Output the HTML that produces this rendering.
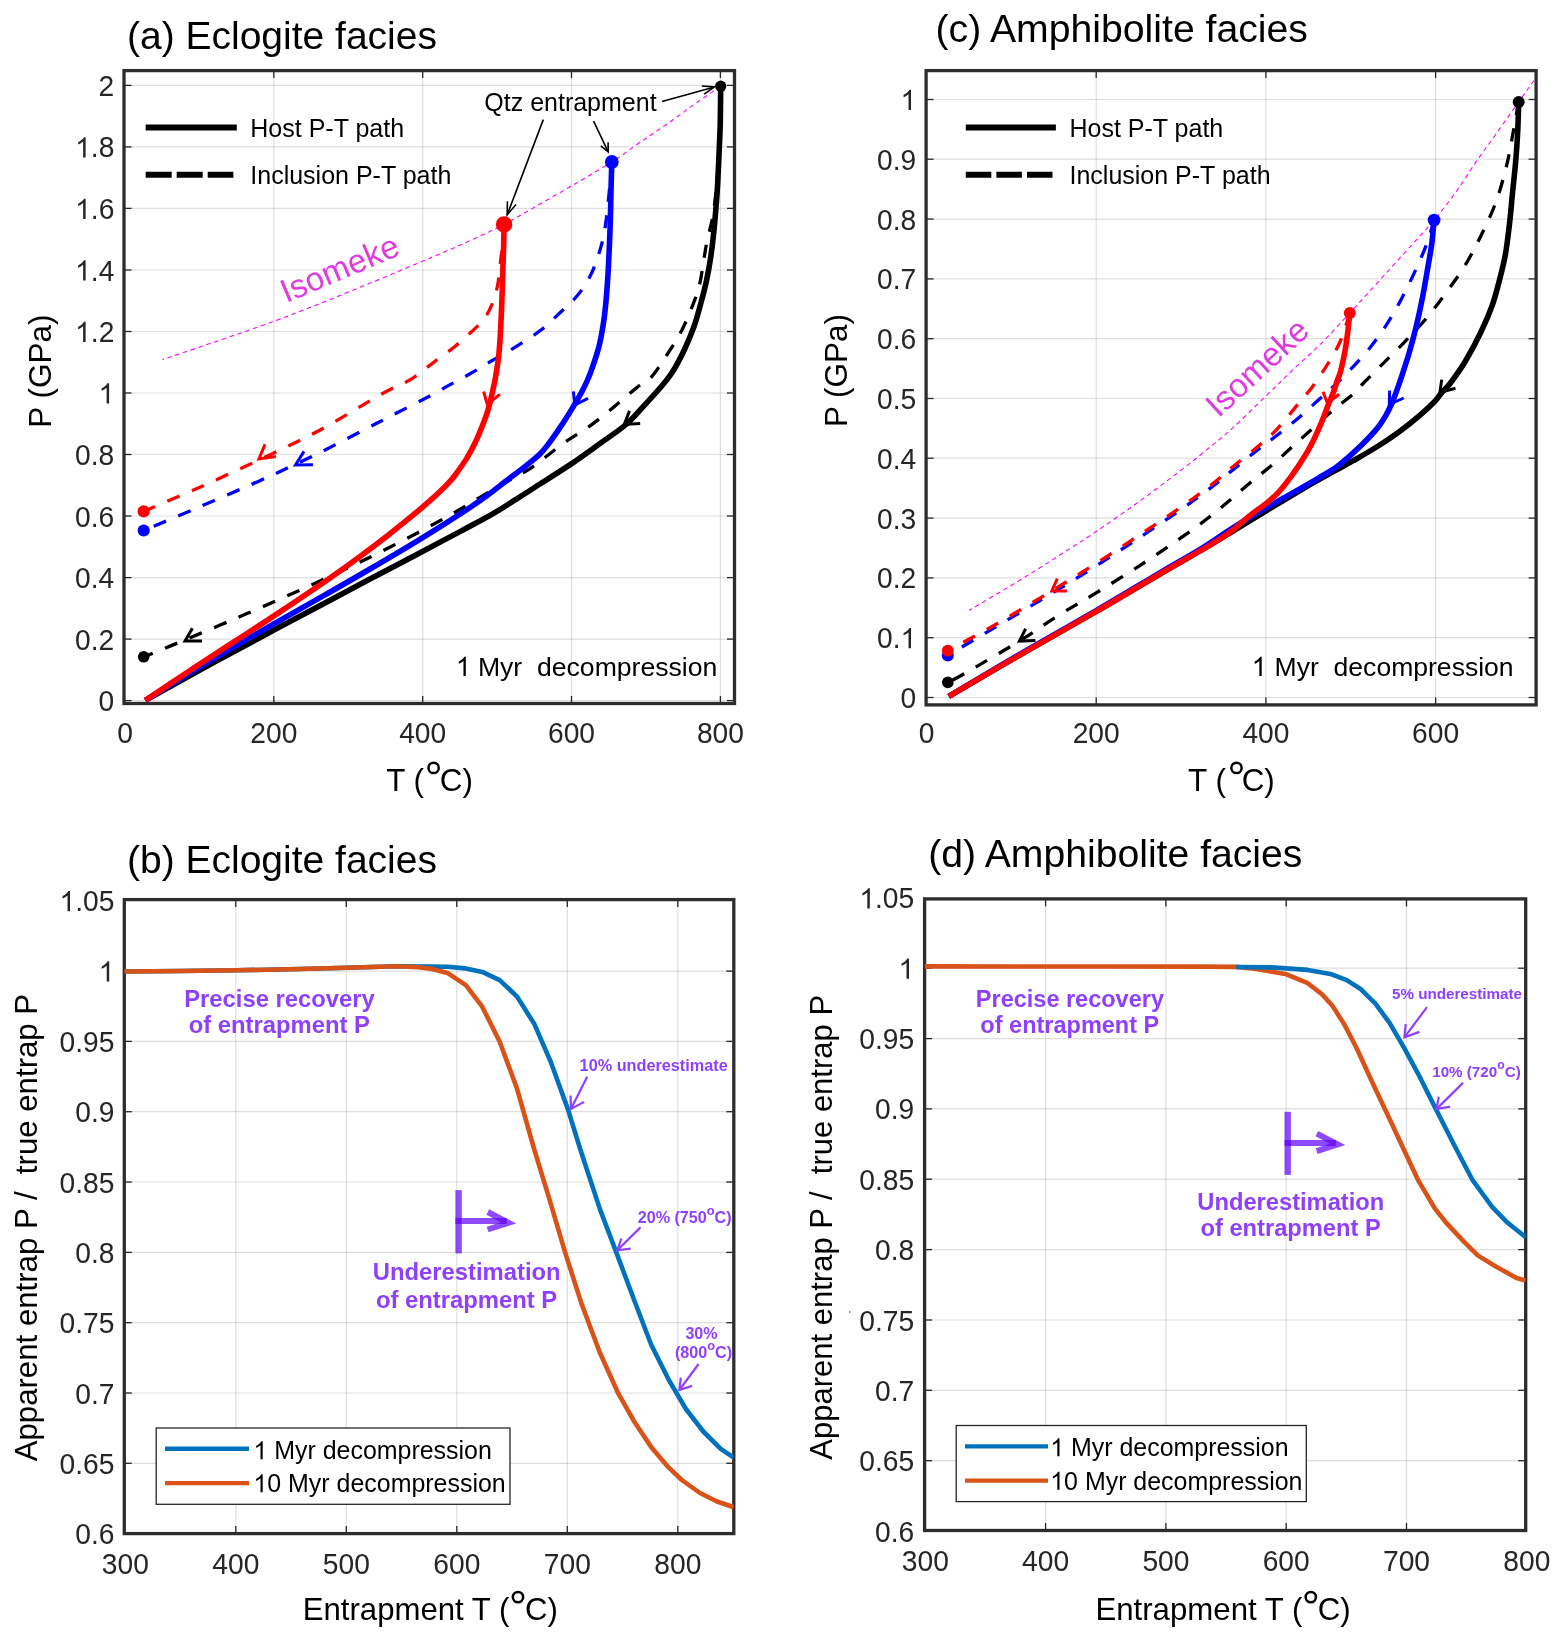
<!DOCTYPE html>
<html><head><meta charset="utf-8"><title>Figure</title>
<style>html,body{margin:0;padding:0;background:#fff;}svg{display:block;will-change:transform;}text{white-space:pre;}</style>
</head><body>
<svg width="1563" height="1640" viewBox="0 0 1563 1640" font-family='"Liberation Sans", sans-serif'>
<rect width="1563" height="1640" fill="#fff"/>
<rect x="124" y="70.6" width="610.5" height="632.9" fill="#fff"/>
<line x1="273.8" y1="70.6" x2="273.8" y2="703.5" stroke="#000" stroke-opacity="0.13" stroke-width="1.2"/>
<line x1="422.7" y1="70.6" x2="422.7" y2="703.5" stroke="#000" stroke-opacity="0.13" stroke-width="1.2"/>
<line x1="571.5" y1="70.6" x2="571.5" y2="703.5" stroke="#000" stroke-opacity="0.13" stroke-width="1.2"/>
<line x1="720.4" y1="70.6" x2="720.4" y2="703.5" stroke="#000" stroke-opacity="0.13" stroke-width="1.2"/>
<line x1="124" y1="700.6" x2="734.5" y2="700.6" stroke="#000" stroke-opacity="0.13" stroke-width="1.2"/>
<line x1="124" y1="639.1" x2="734.5" y2="639.1" stroke="#000" stroke-opacity="0.13" stroke-width="1.2"/>
<line x1="124" y1="577.6" x2="734.5" y2="577.6" stroke="#000" stroke-opacity="0.13" stroke-width="1.2"/>
<line x1="124" y1="516" x2="734.5" y2="516" stroke="#000" stroke-opacity="0.13" stroke-width="1.2"/>
<line x1="124" y1="454.5" x2="734.5" y2="454.5" stroke="#000" stroke-opacity="0.13" stroke-width="1.2"/>
<line x1="124" y1="393" x2="734.5" y2="393" stroke="#000" stroke-opacity="0.13" stroke-width="1.2"/>
<line x1="124" y1="331.5" x2="734.5" y2="331.5" stroke="#000" stroke-opacity="0.13" stroke-width="1.2"/>
<line x1="124" y1="270" x2="734.5" y2="270" stroke="#000" stroke-opacity="0.13" stroke-width="1.2"/>
<line x1="124" y1="208.4" x2="734.5" y2="208.4" stroke="#000" stroke-opacity="0.13" stroke-width="1.2"/>
<line x1="124" y1="146.9" x2="734.5" y2="146.9" stroke="#000" stroke-opacity="0.13" stroke-width="1.2"/>
<line x1="124" y1="85.4" x2="734.5" y2="85.4" stroke="#000" stroke-opacity="0.13" stroke-width="1.2"/>
<rect x="926.1" y="70.6" width="610" height="634.3" fill="#fff"/>
<line x1="1096.2" y1="70.6" x2="1096.2" y2="704.9" stroke="#000" stroke-opacity="0.13" stroke-width="1.2"/>
<line x1="1265.9" y1="70.6" x2="1265.9" y2="704.9" stroke="#000" stroke-opacity="0.13" stroke-width="1.2"/>
<line x1="1435.6" y1="70.6" x2="1435.6" y2="704.9" stroke="#000" stroke-opacity="0.13" stroke-width="1.2"/>
<line x1="926.1" y1="697.5" x2="1536.1" y2="697.5" stroke="#000" stroke-opacity="0.13" stroke-width="1.2"/>
<line x1="926.1" y1="637.7" x2="1536.1" y2="637.7" stroke="#000" stroke-opacity="0.13" stroke-width="1.2"/>
<line x1="926.1" y1="577.9" x2="1536.1" y2="577.9" stroke="#000" stroke-opacity="0.13" stroke-width="1.2"/>
<line x1="926.1" y1="518.1" x2="1536.1" y2="518.1" stroke="#000" stroke-opacity="0.13" stroke-width="1.2"/>
<line x1="926.1" y1="458.2" x2="1536.1" y2="458.2" stroke="#000" stroke-opacity="0.13" stroke-width="1.2"/>
<line x1="926.1" y1="398.5" x2="1536.1" y2="398.5" stroke="#000" stroke-opacity="0.13" stroke-width="1.2"/>
<line x1="926.1" y1="338.7" x2="1536.1" y2="338.7" stroke="#000" stroke-opacity="0.13" stroke-width="1.2"/>
<line x1="926.1" y1="278.9" x2="1536.1" y2="278.9" stroke="#000" stroke-opacity="0.13" stroke-width="1.2"/>
<line x1="926.1" y1="219.1" x2="1536.1" y2="219.1" stroke="#000" stroke-opacity="0.13" stroke-width="1.2"/>
<line x1="926.1" y1="159.2" x2="1536.1" y2="159.2" stroke="#000" stroke-opacity="0.13" stroke-width="1.2"/>
<line x1="926.1" y1="99.5" x2="1536.1" y2="99.5" stroke="#000" stroke-opacity="0.13" stroke-width="1.2"/>
<rect x="124.3" y="899.6" width="609.5" height="634" fill="#fff"/>
<line x1="235.8" y1="899.6" x2="235.8" y2="1533.6" stroke="#000" stroke-opacity="0.13" stroke-width="1.2"/>
<line x1="346.3" y1="899.6" x2="346.3" y2="1533.6" stroke="#000" stroke-opacity="0.13" stroke-width="1.2"/>
<line x1="456.8" y1="899.6" x2="456.8" y2="1533.6" stroke="#000" stroke-opacity="0.13" stroke-width="1.2"/>
<line x1="567.3" y1="899.6" x2="567.3" y2="1533.6" stroke="#000" stroke-opacity="0.13" stroke-width="1.2"/>
<line x1="677.8" y1="899.6" x2="677.8" y2="1533.6" stroke="#000" stroke-opacity="0.13" stroke-width="1.2"/>
<line x1="124.3" y1="1463.3" x2="733.8" y2="1463.3" stroke="#000" stroke-opacity="0.13" stroke-width="1.2"/>
<line x1="124.3" y1="1393" x2="733.8" y2="1393" stroke="#000" stroke-opacity="0.13" stroke-width="1.2"/>
<line x1="124.3" y1="1322.7" x2="733.8" y2="1322.7" stroke="#000" stroke-opacity="0.13" stroke-width="1.2"/>
<line x1="124.3" y1="1252.4" x2="733.8" y2="1252.4" stroke="#000" stroke-opacity="0.13" stroke-width="1.2"/>
<line x1="124.3" y1="1182" x2="733.8" y2="1182" stroke="#000" stroke-opacity="0.13" stroke-width="1.2"/>
<line x1="124.3" y1="1111.7" x2="733.8" y2="1111.7" stroke="#000" stroke-opacity="0.13" stroke-width="1.2"/>
<line x1="124.3" y1="1041.4" x2="733.8" y2="1041.4" stroke="#000" stroke-opacity="0.13" stroke-width="1.2"/>
<line x1="124.3" y1="971.1" x2="733.8" y2="971.1" stroke="#000" stroke-opacity="0.13" stroke-width="1.2"/>
<rect x="924.6" y="898.9" width="601.1" height="631.6" fill="#fff"/>
<line x1="1045.6" y1="898.9" x2="1045.6" y2="1530.5" stroke="#000" stroke-opacity="0.13" stroke-width="1.2"/>
<line x1="1165.9" y1="898.9" x2="1165.9" y2="1530.5" stroke="#000" stroke-opacity="0.13" stroke-width="1.2"/>
<line x1="1286.2" y1="898.9" x2="1286.2" y2="1530.5" stroke="#000" stroke-opacity="0.13" stroke-width="1.2"/>
<line x1="1406.5" y1="898.9" x2="1406.5" y2="1530.5" stroke="#000" stroke-opacity="0.13" stroke-width="1.2"/>
<line x1="924.6" y1="1460.7" x2="1525.7" y2="1460.7" stroke="#000" stroke-opacity="0.13" stroke-width="1.2"/>
<line x1="924.6" y1="1390.3" x2="1525.7" y2="1390.3" stroke="#000" stroke-opacity="0.13" stroke-width="1.2"/>
<line x1="924.6" y1="1320" x2="1525.7" y2="1320" stroke="#000" stroke-opacity="0.13" stroke-width="1.2"/>
<line x1="924.6" y1="1249.6" x2="1525.7" y2="1249.6" stroke="#000" stroke-opacity="0.13" stroke-width="1.2"/>
<line x1="924.6" y1="1179.2" x2="1525.7" y2="1179.2" stroke="#000" stroke-opacity="0.13" stroke-width="1.2"/>
<line x1="924.6" y1="1108.9" x2="1525.7" y2="1108.9" stroke="#000" stroke-opacity="0.13" stroke-width="1.2"/>
<line x1="924.6" y1="1038.6" x2="1525.7" y2="1038.6" stroke="#000" stroke-opacity="0.13" stroke-width="1.2"/>
<line x1="924.6" y1="968.2" x2="1525.7" y2="968.2" stroke="#000" stroke-opacity="0.13" stroke-width="1.2"/>
<line x1="273.8" y1="703.5" x2="273.8" y2="696" stroke="#262626" stroke-width="1.3"/>
<line x1="273.8" y1="70.6" x2="273.8" y2="78.1" stroke="#262626" stroke-width="1.3"/>
<line x1="422.7" y1="703.5" x2="422.7" y2="696" stroke="#262626" stroke-width="1.3"/>
<line x1="422.7" y1="70.6" x2="422.7" y2="78.1" stroke="#262626" stroke-width="1.3"/>
<line x1="571.5" y1="703.5" x2="571.5" y2="696" stroke="#262626" stroke-width="1.3"/>
<line x1="571.5" y1="70.6" x2="571.5" y2="78.1" stroke="#262626" stroke-width="1.3"/>
<line x1="720.4" y1="703.5" x2="720.4" y2="696" stroke="#262626" stroke-width="1.3"/>
<line x1="720.4" y1="70.6" x2="720.4" y2="78.1" stroke="#262626" stroke-width="1.3"/>
<line x1="124" y1="700.6" x2="131.5" y2="700.6" stroke="#262626" stroke-width="1.3"/>
<line x1="734.5" y1="700.6" x2="727" y2="700.6" stroke="#262626" stroke-width="1.3"/>
<line x1="124" y1="639.1" x2="131.5" y2="639.1" stroke="#262626" stroke-width="1.3"/>
<line x1="734.5" y1="639.1" x2="727" y2="639.1" stroke="#262626" stroke-width="1.3"/>
<line x1="124" y1="577.6" x2="131.5" y2="577.6" stroke="#262626" stroke-width="1.3"/>
<line x1="734.5" y1="577.6" x2="727" y2="577.6" stroke="#262626" stroke-width="1.3"/>
<line x1="124" y1="516" x2="131.5" y2="516" stroke="#262626" stroke-width="1.3"/>
<line x1="734.5" y1="516" x2="727" y2="516" stroke="#262626" stroke-width="1.3"/>
<line x1="124" y1="454.5" x2="131.5" y2="454.5" stroke="#262626" stroke-width="1.3"/>
<line x1="734.5" y1="454.5" x2="727" y2="454.5" stroke="#262626" stroke-width="1.3"/>
<line x1="124" y1="393" x2="131.5" y2="393" stroke="#262626" stroke-width="1.3"/>
<line x1="734.5" y1="393" x2="727" y2="393" stroke="#262626" stroke-width="1.3"/>
<line x1="124" y1="331.5" x2="131.5" y2="331.5" stroke="#262626" stroke-width="1.3"/>
<line x1="734.5" y1="331.5" x2="727" y2="331.5" stroke="#262626" stroke-width="1.3"/>
<line x1="124" y1="270" x2="131.5" y2="270" stroke="#262626" stroke-width="1.3"/>
<line x1="734.5" y1="270" x2="727" y2="270" stroke="#262626" stroke-width="1.3"/>
<line x1="124" y1="208.4" x2="131.5" y2="208.4" stroke="#262626" stroke-width="1.3"/>
<line x1="734.5" y1="208.4" x2="727" y2="208.4" stroke="#262626" stroke-width="1.3"/>
<line x1="124" y1="146.9" x2="131.5" y2="146.9" stroke="#262626" stroke-width="1.3"/>
<line x1="734.5" y1="146.9" x2="727" y2="146.9" stroke="#262626" stroke-width="1.3"/>
<line x1="124" y1="85.4" x2="131.5" y2="85.4" stroke="#262626" stroke-width="1.3"/>
<line x1="734.5" y1="85.4" x2="727" y2="85.4" stroke="#262626" stroke-width="1.3"/>
<rect x="124" y="70.6" width="610.5" height="632.9" fill="none" stroke="#2d2d2d" stroke-width="3.3"/>
<line x1="1096.2" y1="704.9" x2="1096.2" y2="697.4" stroke="#262626" stroke-width="1.3"/>
<line x1="1096.2" y1="70.6" x2="1096.2" y2="78.1" stroke="#262626" stroke-width="1.3"/>
<line x1="1265.9" y1="704.9" x2="1265.9" y2="697.4" stroke="#262626" stroke-width="1.3"/>
<line x1="1265.9" y1="70.6" x2="1265.9" y2="78.1" stroke="#262626" stroke-width="1.3"/>
<line x1="1435.6" y1="704.9" x2="1435.6" y2="697.4" stroke="#262626" stroke-width="1.3"/>
<line x1="1435.6" y1="70.6" x2="1435.6" y2="78.1" stroke="#262626" stroke-width="1.3"/>
<line x1="926.1" y1="697.5" x2="933.6" y2="697.5" stroke="#262626" stroke-width="1.3"/>
<line x1="1536.1" y1="697.5" x2="1528.6" y2="697.5" stroke="#262626" stroke-width="1.3"/>
<line x1="926.1" y1="637.7" x2="933.6" y2="637.7" stroke="#262626" stroke-width="1.3"/>
<line x1="1536.1" y1="637.7" x2="1528.6" y2="637.7" stroke="#262626" stroke-width="1.3"/>
<line x1="926.1" y1="577.9" x2="933.6" y2="577.9" stroke="#262626" stroke-width="1.3"/>
<line x1="1536.1" y1="577.9" x2="1528.6" y2="577.9" stroke="#262626" stroke-width="1.3"/>
<line x1="926.1" y1="518.1" x2="933.6" y2="518.1" stroke="#262626" stroke-width="1.3"/>
<line x1="1536.1" y1="518.1" x2="1528.6" y2="518.1" stroke="#262626" stroke-width="1.3"/>
<line x1="926.1" y1="458.2" x2="933.6" y2="458.2" stroke="#262626" stroke-width="1.3"/>
<line x1="1536.1" y1="458.2" x2="1528.6" y2="458.2" stroke="#262626" stroke-width="1.3"/>
<line x1="926.1" y1="398.5" x2="933.6" y2="398.5" stroke="#262626" stroke-width="1.3"/>
<line x1="1536.1" y1="398.5" x2="1528.6" y2="398.5" stroke="#262626" stroke-width="1.3"/>
<line x1="926.1" y1="338.7" x2="933.6" y2="338.7" stroke="#262626" stroke-width="1.3"/>
<line x1="1536.1" y1="338.7" x2="1528.6" y2="338.7" stroke="#262626" stroke-width="1.3"/>
<line x1="926.1" y1="278.9" x2="933.6" y2="278.9" stroke="#262626" stroke-width="1.3"/>
<line x1="1536.1" y1="278.9" x2="1528.6" y2="278.9" stroke="#262626" stroke-width="1.3"/>
<line x1="926.1" y1="219.1" x2="933.6" y2="219.1" stroke="#262626" stroke-width="1.3"/>
<line x1="1536.1" y1="219.1" x2="1528.6" y2="219.1" stroke="#262626" stroke-width="1.3"/>
<line x1="926.1" y1="159.2" x2="933.6" y2="159.2" stroke="#262626" stroke-width="1.3"/>
<line x1="1536.1" y1="159.2" x2="1528.6" y2="159.2" stroke="#262626" stroke-width="1.3"/>
<line x1="926.1" y1="99.5" x2="933.6" y2="99.5" stroke="#262626" stroke-width="1.3"/>
<line x1="1536.1" y1="99.5" x2="1528.6" y2="99.5" stroke="#262626" stroke-width="1.3"/>
<rect x="926.1" y="70.6" width="610" height="634.3" fill="none" stroke="#2d2d2d" stroke-width="3.3"/>
<line x1="235.8" y1="1533.6" x2="235.8" y2="1526.1" stroke="#262626" stroke-width="1.3"/>
<line x1="235.8" y1="899.6" x2="235.8" y2="907.1" stroke="#262626" stroke-width="1.3"/>
<line x1="346.3" y1="1533.6" x2="346.3" y2="1526.1" stroke="#262626" stroke-width="1.3"/>
<line x1="346.3" y1="899.6" x2="346.3" y2="907.1" stroke="#262626" stroke-width="1.3"/>
<line x1="456.8" y1="1533.6" x2="456.8" y2="1526.1" stroke="#262626" stroke-width="1.3"/>
<line x1="456.8" y1="899.6" x2="456.8" y2="907.1" stroke="#262626" stroke-width="1.3"/>
<line x1="567.3" y1="1533.6" x2="567.3" y2="1526.1" stroke="#262626" stroke-width="1.3"/>
<line x1="567.3" y1="899.6" x2="567.3" y2="907.1" stroke="#262626" stroke-width="1.3"/>
<line x1="677.8" y1="1533.6" x2="677.8" y2="1526.1" stroke="#262626" stroke-width="1.3"/>
<line x1="677.8" y1="899.6" x2="677.8" y2="907.1" stroke="#262626" stroke-width="1.3"/>
<line x1="124.3" y1="1463.3" x2="131.8" y2="1463.3" stroke="#262626" stroke-width="1.3"/>
<line x1="733.8" y1="1463.3" x2="726.3" y2="1463.3" stroke="#262626" stroke-width="1.3"/>
<line x1="124.3" y1="1393" x2="131.8" y2="1393" stroke="#262626" stroke-width="1.3"/>
<line x1="733.8" y1="1393" x2="726.3" y2="1393" stroke="#262626" stroke-width="1.3"/>
<line x1="124.3" y1="1322.7" x2="131.8" y2="1322.7" stroke="#262626" stroke-width="1.3"/>
<line x1="733.8" y1="1322.7" x2="726.3" y2="1322.7" stroke="#262626" stroke-width="1.3"/>
<line x1="124.3" y1="1252.4" x2="131.8" y2="1252.4" stroke="#262626" stroke-width="1.3"/>
<line x1="733.8" y1="1252.4" x2="726.3" y2="1252.4" stroke="#262626" stroke-width="1.3"/>
<line x1="124.3" y1="1182" x2="131.8" y2="1182" stroke="#262626" stroke-width="1.3"/>
<line x1="733.8" y1="1182" x2="726.3" y2="1182" stroke="#262626" stroke-width="1.3"/>
<line x1="124.3" y1="1111.7" x2="131.8" y2="1111.7" stroke="#262626" stroke-width="1.3"/>
<line x1="733.8" y1="1111.7" x2="726.3" y2="1111.7" stroke="#262626" stroke-width="1.3"/>
<line x1="124.3" y1="1041.4" x2="131.8" y2="1041.4" stroke="#262626" stroke-width="1.3"/>
<line x1="733.8" y1="1041.4" x2="726.3" y2="1041.4" stroke="#262626" stroke-width="1.3"/>
<line x1="124.3" y1="971.1" x2="131.8" y2="971.1" stroke="#262626" stroke-width="1.3"/>
<line x1="733.8" y1="971.1" x2="726.3" y2="971.1" stroke="#262626" stroke-width="1.3"/>
<rect x="124.3" y="899.6" width="609.5" height="634" fill="none" stroke="#2d2d2d" stroke-width="3.3"/>
<line x1="1045.6" y1="1530.5" x2="1045.6" y2="1523" stroke="#262626" stroke-width="1.3"/>
<line x1="1045.6" y1="898.9" x2="1045.6" y2="906.4" stroke="#262626" stroke-width="1.3"/>
<line x1="1165.9" y1="1530.5" x2="1165.9" y2="1523" stroke="#262626" stroke-width="1.3"/>
<line x1="1165.9" y1="898.9" x2="1165.9" y2="906.4" stroke="#262626" stroke-width="1.3"/>
<line x1="1286.2" y1="1530.5" x2="1286.2" y2="1523" stroke="#262626" stroke-width="1.3"/>
<line x1="1286.2" y1="898.9" x2="1286.2" y2="906.4" stroke="#262626" stroke-width="1.3"/>
<line x1="1406.5" y1="1530.5" x2="1406.5" y2="1523" stroke="#262626" stroke-width="1.3"/>
<line x1="1406.5" y1="898.9" x2="1406.5" y2="906.4" stroke="#262626" stroke-width="1.3"/>
<line x1="924.6" y1="1460.7" x2="932.1" y2="1460.7" stroke="#262626" stroke-width="1.3"/>
<line x1="1525.7" y1="1460.7" x2="1518.2" y2="1460.7" stroke="#262626" stroke-width="1.3"/>
<line x1="924.6" y1="1390.3" x2="932.1" y2="1390.3" stroke="#262626" stroke-width="1.3"/>
<line x1="1525.7" y1="1390.3" x2="1518.2" y2="1390.3" stroke="#262626" stroke-width="1.3"/>
<line x1="924.6" y1="1320" x2="932.1" y2="1320" stroke="#262626" stroke-width="1.3"/>
<line x1="1525.7" y1="1320" x2="1518.2" y2="1320" stroke="#262626" stroke-width="1.3"/>
<line x1="924.6" y1="1249.6" x2="932.1" y2="1249.6" stroke="#262626" stroke-width="1.3"/>
<line x1="1525.7" y1="1249.6" x2="1518.2" y2="1249.6" stroke="#262626" stroke-width="1.3"/>
<line x1="924.6" y1="1179.2" x2="932.1" y2="1179.2" stroke="#262626" stroke-width="1.3"/>
<line x1="1525.7" y1="1179.2" x2="1518.2" y2="1179.2" stroke="#262626" stroke-width="1.3"/>
<line x1="924.6" y1="1108.9" x2="932.1" y2="1108.9" stroke="#262626" stroke-width="1.3"/>
<line x1="1525.7" y1="1108.9" x2="1518.2" y2="1108.9" stroke="#262626" stroke-width="1.3"/>
<line x1="924.6" y1="1038.6" x2="932.1" y2="1038.6" stroke="#262626" stroke-width="1.3"/>
<line x1="1525.7" y1="1038.6" x2="1518.2" y2="1038.6" stroke="#262626" stroke-width="1.3"/>
<line x1="924.6" y1="968.2" x2="932.1" y2="968.2" stroke="#262626" stroke-width="1.3"/>
<line x1="1525.7" y1="968.2" x2="1518.2" y2="968.2" stroke="#262626" stroke-width="1.3"/>
<rect x="924.6" y="898.9" width="601.1" height="631.6" fill="none" stroke="#2d2d2d" stroke-width="3.3"/>
<clipPath id="ca"><rect x="124" y="70.6" width="610.5" height="632.9"/></clipPath>
<g clip-path="url(#ca)">
<path d="M720.7,86.2 C716.6,89 703.7,97.7 696.2,103 C688.7,108.3 682.5,113.1 675.7,117.9 C668.9,122.8 662,127.4 655.2,132.1 C648.4,136.8 642,141 634.8,146 C627.6,151 622,155.5 611.8,162 C601.5,168.5 586.5,177.2 573.3,184.9 C560.1,192.6 543.9,201.8 532.4,208.4 C520.9,215 514.3,219.1 504.1,224.4 C493.9,229.7 482.9,234.8 471,240.2 C459.1,245.6 450.9,249.2 432.5,257 C414.1,264.8 387,276.3 360.7,287 C334.4,297.7 307.7,308.9 274.7,321 C241.7,333.1 181.2,353.2 162.5,359.6" fill="none" stroke="#ff00ff" stroke-width="1.1" stroke-dasharray="4.6 3.6" stroke-linejoin="round" />
<path d="M720.7,86.2 C720.6,92.1 720.5,111.1 720.3,121.4 C720.1,131.7 719.7,137.8 719.3,148 C718.9,158.2 718.2,173 717.7,182.9 C717.2,192.8 716.7,198.9 716,207.4 C715.3,215.9 714.5,225.5 713.6,234 C712.7,242.5 711.7,250.8 710.5,258.6 C709.3,266.5 707.9,273.9 706.4,281.1 C704.9,288.3 703.3,294.1 701.3,301.6 C699.2,309.1 697,318 694.1,326.2 C691.2,334.4 687.6,342.8 683.9,350.7 C680.1,358.6 675.6,367.1 671.6,373.3 C667.6,379.5 664.4,382.8 660,388 C655.6,393.2 650.6,398.6 645,404.6 C639.4,410.6 634.1,417.5 626.6,424 C619.1,430.5 609.2,436.9 600,443.5 C590.8,450.1 581.3,457.1 571.3,463.9 C561.3,470.6 548.7,478.4 540,484 C531.3,489.6 526.9,492.5 519.1,497.4 C511.4,502.3 501.7,508.6 493.5,513.4 C485.3,518.2 477.2,522.4 470,526.3 C462.8,530.2 459.2,532 450,536.9 C440.8,541.8 428.3,548.4 415,555.4 C401.7,562.4 385,571.2 370,579.1 C355,587 340,595 325,602.9 C310,610.8 295,618.8 280,626.8 C265,634.8 250,642.9 235,651 C220,659.1 204.9,667.3 190,675.5 C175.1,683.7 152.8,696.2 145.3,700.4" fill="none" stroke="#000" stroke-width="5.6" stroke-linejoin="round" />
<path d="M720.7,86.2 C720.6,93.5 720.3,115.2 719.8,130 C719.3,144.8 718.6,160.8 717.5,175 C716.4,189.2 714.9,203.4 713,215 C711.1,226.6 708.5,233.3 706.4,244.3 C704.3,255.3 702.3,271.6 700.3,281.1 C698.2,290.7 697.4,293.1 694.1,301.6 C690.9,310.1 685.6,323.1 680.8,332.3 C676,341.5 670.5,349.4 665.5,356.9 C660.5,364.4 655.9,372.3 651.1,377.4 C646.3,382.5 642.9,382.7 636.8,387.6 C630.7,392.5 622.1,400.2 614.3,406.6 C606.4,413 598.2,420 589.7,426.1 C581.2,432.2 572.7,436.6 563.1,443.5 C553.5,450.4 541.1,461 531.9,467.3 C522.7,473.6 516.3,476.3 507.8,481.2 C499.3,486.1 490.4,491.1 480.8,496.8 C471.2,502.5 461,508.9 450,515.1 C439,521.3 428.3,527.2 415,534.2 C401.7,541.2 385,549.8 370,557.2 C355,564.6 340,571.7 325,578.7 C310,585.7 295,592.4 280,599.1 C265,605.8 250,612.2 235,618.7 C220,625.2 201.7,632.9 190,637.8 C178.3,642.7 172.7,645 165,648.2 C157.3,651.4 147.2,655.5 143.7,657" fill="none" stroke="#000" stroke-width="3.3" stroke-dasharray="13.3 13.3" stroke-linejoin="round" />
<path d="M611.8,162 C611.7,165.5 611.5,172.6 611.2,182.9 C610.9,193.2 610.7,210.2 610.2,223.8 C609.8,237.4 609.1,252.8 608.5,264.7 C607.9,276.6 607.3,285.9 606.5,295.5 C605.7,305.1 604.9,313.6 603.6,322.1 C602.3,330.6 600.9,338.9 598.9,346.7 C596.9,354.5 593.7,363.6 591.8,369.2 C589.9,374.8 589.2,376.1 587.5,380 C585.8,383.9 583.9,387.9 581.5,392.3 C579.1,396.7 576.7,401 573.3,406.6 C569.9,412.2 565.1,420 561,426.1 C556.9,432.2 552.3,438.9 548.8,443.5 C545.3,448.1 543.9,450.1 540,453.9 C536.1,457.7 531.1,461.6 525.5,466.1 C519.9,470.6 512.7,475.9 506.3,480.8 C499.9,485.7 493.2,491.1 487.2,495.5 C481.1,499.9 476.2,503.3 470,507.5 C463.8,511.7 459.2,514.7 450,520.5 C440.8,526.3 428.3,534.2 415,542.3 C401.7,550.4 385,560.2 370,569 C355,577.8 340,586.3 325,594.9 C310,603.5 295,611.8 280,620.4 C265,629 250,637.5 235,646.2 C220,654.9 204.9,663.8 190,672.8 C175.1,681.8 152.8,695.8 145.3,700.4" fill="none" stroke="#0000ff" stroke-width="5.6" stroke-linejoin="round" />
<path d="M611.8,162 C611.2,168.9 609.4,191.3 608.1,203.3 C606.8,215.3 605.7,225.1 604,234 C602.3,242.9 600.3,249.4 597.9,256.6 C595.5,263.8 593.1,270.5 589.7,277 C586.3,283.5 582.2,289.7 577.4,295.5 C572.6,301.3 567.1,306 561,311.8 C554.9,317.6 548.1,324.5 540.6,330.3 C533.1,336.1 524.2,341.6 516,346.7 C507.8,351.8 498.9,356.6 491.4,361 C483.9,365.4 478.4,369 470.9,373.3 C463.4,377.6 452.4,383.3 446.4,386.6 C440.4,389.9 445.9,387.6 435,393.3 C424.1,399 400.4,411.1 381.2,421 C362,430.9 334,445.5 319.7,452.7 C305.4,459.9 305.4,459.6 295.2,464.4 C285,469.2 274.7,474.1 258.3,481.4 C241.9,488.7 216,499.8 196.9,508 C177.8,516.2 152.6,526.8 143.7,530.5" fill="none" stroke="#0000ff" stroke-width="3.3" stroke-dasharray="13.3 13.3" stroke-linejoin="round" />
<path d="M504.1,224.4 C504,227.7 503.9,235.9 503.7,244.3 C503.5,252.7 503,264.8 502.7,275 C502.4,285.2 502.1,295.5 501.7,305.7 C501.3,315.9 500.7,327.9 500.2,336.4 C499.7,344.9 499.4,350.1 498.6,356.9 C497.8,363.7 496.5,371.5 495.5,377.4 C494.5,383.3 493.6,387.1 492.4,392.3 C491.2,397.5 489.7,404.1 488.4,408.7 C487.1,413.3 486.7,414.5 484.6,420 C482.5,425.5 478.6,435.4 475.6,441.8 C472.6,448.2 470.1,452.9 466.7,458.4 C463.3,463.9 458.2,470.9 455.2,475 C452.2,479.1 451.1,480.1 448.8,482.7 C446.5,485.2 444.2,487.3 441.1,490.3 C438,493.3 434.4,496.8 430,500.7 C425.6,504.6 421.7,508 415,513.5 C408.3,519 399.2,526.5 390,533.7 C380.8,540.9 370.8,548.5 360,556.5 C349.2,564.5 338.3,572.3 325,581.5 C311.7,590.7 295,601.9 280,611.9 C265,621.9 250,631.4 235,641.2 C220,651 204.9,660.6 190,670.5 C175.1,680.4 152.8,695.4 145.3,700.4" fill="none" stroke="#ff0000" stroke-width="5.6" stroke-linejoin="round" />
<path d="M504.1,224.4 C503.8,227.8 503.1,238.9 502.5,245 C501.9,251.1 501.4,254 500.6,260.7 C499.8,267.4 499.1,277.7 497.6,285.2 C496.1,292.7 493.8,299.9 491.4,305.7 C489,311.5 486.6,315.6 483.2,320 C479.8,324.4 475.7,327.9 470.9,332.3 C466.1,336.8 460.1,342.3 454.6,346.7 C449.2,351.1 442.3,355.8 438.2,358.9 C434.1,362 434.7,361.6 430,365.1 C425.3,368.6 417.9,375.1 409.8,380 C401.7,384.9 396.2,385.9 381.2,394.3 C366.2,402.7 340.2,419.2 319.7,430.2 C299.2,441.2 278.8,450.6 258.3,460.3 C237.8,470 216,480 196.9,488.5 C177.8,497 152.6,507.6 143.7,511.4" fill="none" stroke="#ff0000" stroke-width="3.3" stroke-dasharray="13.3 13.3" stroke-linejoin="round" />
</g>
<circle cx="720.7" cy="86.2" r="5.6" fill="#000"/>
<circle cx="611.8" cy="162" r="6.9" fill="#0000ff"/>
<circle cx="504.1" cy="224.4" r="8.2" fill="#ff0000"/>
<circle cx="143.7" cy="511.4" r="6.1" fill="#ff0000"/>
<circle cx="143.7" cy="530.5" r="6.1" fill="#0000ff"/>
<circle cx="143.7" cy="656.8" r="5.8" fill="#000"/>
<path d="M483.6,391.5 L487.3,404.4 L499.9,394.4" fill="none" stroke="#ff0000" stroke-width="3" stroke-linejoin="miter" stroke-linecap="butt"/>
<path d="M573.4,391.3 L574.8,405 L588,398.4" fill="none" stroke="#0000ff" stroke-width="3" stroke-linejoin="miter" stroke-linecap="butt"/>
<path d="M629.5,410.9 L624.3,424.4 L640.2,423.5" fill="none" stroke="#000" stroke-width="3" stroke-linejoin="miter" stroke-linecap="butt"/>
<path d="M265,444.3 L259,459 L275.9,456.5" fill="none" stroke="#ff0000" stroke-width="3" stroke-linejoin="miter" stroke-linecap="butt"/>
<path d="M304,451.4 L295.5,465 L313,464.8" fill="none" stroke="#0000ff" stroke-width="3" stroke-linejoin="miter" stroke-linecap="butt"/>
<path d="M192.4,628.2 L185,641.1 L202,641.1" fill="none" stroke="#000" stroke-width="3" stroke-linejoin="miter" stroke-linecap="butt"/>
<line x1="145.7" y1="127.6" x2="236.8" y2="127.6" stroke="#000" stroke-width="6"/>
<line x1="145.7" y1="174.7" x2="233.4" y2="174.7" stroke="#000" stroke-width="6" stroke-dasharray="26.0 5.0"/>
<text transform="translate(250.3,136.8)" font-size="25" fill="#000" text-anchor="start" font-weight="normal" >Host P-T path</text>
<text transform="translate(250.3,183.9)" font-size="25" fill="#000" text-anchor="start" font-weight="normal" >Inclusion P-T path</text>
<text transform="translate(484.3,111.2)" font-size="25" fill="#000" text-anchor="start" font-weight="normal" >Qtz entrapment</text>
<line x1="662" y1="101.5" x2="714.5" y2="86.9" stroke="#000" stroke-width="1.6"/>
<path d="M701.8,86 L714.5,86.9 L704.1,94.2" fill="none" stroke="#000" stroke-width="1.6" stroke-linejoin="miter" stroke-linecap="butt"/>
<line x1="593.6" y1="121.2" x2="608.2" y2="151.9" stroke="#000" stroke-width="1.6"/>
<path d="M608.1,142.3 L608.2,151.9 L600.8,145.8" fill="none" stroke="#000" stroke-width="1.6" stroke-linejoin="miter" stroke-linecap="butt"/>
<line x1="543.3" y1="119.6" x2="507.2" y2="214.8" stroke="#000" stroke-width="1.6"/>
<path d="M516,204.6 L507.2,214.8 L507.4,201.3" fill="none" stroke="#000" stroke-width="1.6" stroke-linejoin="miter" stroke-linecap="butt"/>
<path d="M763 0H583V1147Q518 1085 412.5 1023T223 930V1104Q374 1175 487 1276T647 1472H763Z" fill="#000" transform="translate(455.9,675.9) scale(0.01299,-0.01299)"/>
<text transform="translate(717.3,675.9)" font-size="26.6" fill="#000" text-anchor="end" font-weight="normal" >Myr&#160; decompression</text>
<text transform="translate(286.3,303.3) rotate(-23)" font-size="33.2" fill="#de3cde" text-anchor="start" font-weight="normal" >Isomeke</text>
<clipPath id="cc"><rect x="926.1" y="70.6" width="610" height="634.3"/></clipPath>
<g clip-path="url(#cc)">
<path d="M1534,80.5 C1531.5,84.1 1525,93.1 1518.7,102 C1512.4,110.9 1503.4,123.6 1496.2,133.7 C1489,143.8 1482.5,152.5 1475.7,162.4 C1468.9,172.3 1462.1,183.5 1455.2,193.1 C1448.3,202.7 1440.9,211.9 1434.1,220.1 C1427.3,228.3 1421,234.8 1414.3,242.2 C1407.6,249.6 1400.6,257.2 1393.8,264.7 C1387,272.2 1380.6,279.3 1373.3,287.3 C1366,295.3 1358.3,303.7 1349.8,312.9 C1341.3,322.1 1331.8,332.9 1322.1,342.6 C1312.4,352.3 1300.9,362.1 1291.4,371.2 C1281.9,380.3 1274.8,387.5 1265,397 C1255.2,406.5 1241.3,420.1 1232.5,428.2 C1223.7,436.3 1220.5,438.5 1211.9,445.5 C1203.4,452.5 1193.2,460.9 1181.2,470.1 C1169.2,479.3 1154.4,490.6 1140.2,500.8 C1126,511 1109.9,522.3 1096.2,531.5 C1082.5,540.7 1071.4,547.7 1058.3,556.1 C1045.2,564.5 1032.2,572.7 1017.4,581.7 C1002.6,590.7 977.3,605.5 969.3,610.3" fill="none" stroke="#ff00ff" stroke-width="1.1" stroke-dasharray="4.6 3.6" stroke-linejoin="round" />
<path d="M1518.7,102 C1518.5,107 1518.2,121.6 1517.7,131.7 C1517.2,141.8 1516.5,152.2 1515.6,162.4 C1514.7,172.6 1513.5,182.9 1512.5,193.1 C1511.5,203.3 1510.7,213.6 1509.5,223.8 C1508.3,234 1507.1,244.9 1505.4,254.5 C1503.7,264.1 1501.4,272.6 1499.2,281.1 C1497,289.6 1495.2,297.2 1492.1,305.7 C1489,314.2 1485.2,323.1 1480.8,332.3 C1476.4,341.5 1470.6,352.5 1465.5,361 C1460.4,369.5 1454,378.3 1450.1,383.5 C1446.2,388.7 1444.5,389.3 1441.9,392.3 C1439.3,395.3 1438.3,397.8 1434.7,401.5 C1431.1,405.2 1426.2,409.9 1420.4,414.8 C1414.6,419.8 1407.1,425.9 1399.9,431.2 C1392.7,436.5 1385.2,441.6 1377.4,446.5 C1369.6,451.4 1360.4,456.6 1352.9,460.9 C1345.4,465.2 1340.9,467.3 1332.4,472.1 C1323.9,476.9 1312.8,483 1301.7,489.5 C1290.6,496 1276.9,504.3 1265.8,511 C1254.7,517.7 1242.3,525.3 1235,529.8 C1227.7,534.2 1227.6,534.4 1222.1,537.7 C1216.5,541.1 1211.9,543.9 1201.7,549.9 C1191.5,555.9 1178.3,563.2 1160.7,573.5 C1143.1,583.8 1120.1,597.6 1096.2,611.4 C1072.3,625.2 1042,642.2 1017.4,656.4 C992.8,670.5 960.2,689.6 948.8,696.3" fill="none" stroke="#000" stroke-width="5.6" stroke-linejoin="round" />
<path d="M1518.7,102 C1517.7,107.6 1514.5,125.1 1512.5,135.8 C1510.5,146.6 1509.1,155.6 1506.4,166.5 C1503.7,177.4 1500.3,190.1 1496.2,201.3 C1492.1,212.6 1486.9,223.4 1481.8,234 C1476.7,244.6 1471.3,255.1 1465.5,264.7 C1459.7,274.3 1453.5,282.5 1447,291.4 C1440.5,300.3 1433.8,309.5 1426.6,318 C1419.4,326.5 1411.5,334.8 1404,342.6 C1396.5,350.5 1388.3,358.3 1381.5,365.1 C1374.7,371.9 1367.9,378.6 1363.1,383.5 C1358.3,388.4 1358,389.8 1352.9,394.3 C1347.8,398.8 1339.2,404.9 1332.4,410.7 C1325.6,416.5 1318.7,423 1311.9,429.1 C1305.1,435.2 1298.2,441.5 1291.4,447.6 C1284.6,453.8 1277.7,460.2 1270.9,466 C1264.1,471.8 1257,477 1250.5,482.4 C1244,487.8 1238.4,492.9 1232,498.3 C1225.6,503.8 1220.4,508.5 1211.9,515.1 C1203.4,521.7 1193.2,529.3 1181.2,537.7 C1169.2,546.1 1154.4,556.1 1140.2,565.3 C1126,574.5 1109.9,584.5 1096.2,592.9 C1082.5,601.3 1071.1,607.5 1058.3,615.5 C1045.5,623.5 1035.1,631.4 1019.4,641.1 C1003.7,650.8 976,666.9 964.1,673.8 C952.2,680.7 950.5,681 947.8,682.4" fill="none" stroke="#000" stroke-width="3.3" stroke-dasharray="13.3 13.3" stroke-linejoin="round" />
<path d="M1434.1,220.1 C1433.7,224.1 1432.8,236.2 1431.7,244.3 C1430.6,252.4 1429.1,259.9 1427.6,268.8 C1426.1,277.7 1424.4,287.9 1422.5,297.5 C1420.6,307.1 1418.5,317 1416.3,326.2 C1414.1,335.4 1411.6,344.6 1409.2,352.8 C1406.8,361 1404,369.1 1402,375.3 C1400,381.5 1398.6,385.4 1396.9,390.1 C1395.2,394.8 1393.7,399.2 1391.8,403.5 C1389.9,407.8 1388,411.7 1385.6,415.8 C1383.2,419.9 1381.2,423.5 1377.4,428.1 C1373.7,432.7 1367.9,438.7 1363.1,443.5 C1358.3,448.3 1353.2,452.9 1348.8,456.8 C1344.4,460.7 1341.6,463.4 1336.5,467 C1331.4,470.6 1325.5,473.9 1318,478.3 C1310.5,482.7 1300.1,488.7 1291.4,493.6 C1282.7,498.6 1275.6,502.3 1265.8,508 C1256,513.7 1243.2,521.3 1232.5,528 C1221.8,534.7 1213.7,540.9 1201.7,548.3 C1189.7,555.7 1178.3,561.9 1160.7,572.3 C1143.1,582.7 1120.1,596.7 1096.2,610.6 C1072.3,624.5 1042,641.5 1017.4,655.8 C992.8,670.1 960.2,689.5 948.8,696.3" fill="none" stroke="#0000ff" stroke-width="5.6" stroke-linejoin="round" />
<path d="M1434.1,220.1 C1432.8,224.1 1429.9,235.5 1426.6,244.3 C1423.3,253.1 1418.7,263.3 1414.3,272.9 C1409.9,282.4 1404.8,292.7 1400,301.6 C1395.2,310.5 1390.7,318.4 1385.6,326.2 C1380.5,334 1375,341.5 1369.2,348.7 C1363.4,355.9 1356.6,363.1 1350.8,369.2 C1345,375.3 1339.5,380.6 1334.4,385.5 C1329.3,390.4 1325.9,393.2 1320.1,398.4 C1314.3,403.6 1306.8,410.8 1299.6,416.9 C1292.4,423 1284.3,429.7 1277.1,435.3 C1269.9,440.9 1264,444.8 1256.6,450.6 C1249.2,456.4 1240,464.1 1232.5,470.1 C1225,476.2 1220.5,480.3 1211.9,486.9 C1203.4,493.4 1193.2,501 1181.2,509.4 C1169.2,517.8 1154.4,527.7 1140.2,537.1 C1126,546.5 1110.9,556.4 1096.2,565.8 C1081.5,575.2 1068.3,583.3 1051.8,593.4 C1035.2,603.5 1014.2,615.9 996.9,626.2 C979.6,636.5 956,650.5 947.8,655.4" fill="none" stroke="#0000ff" stroke-width="3.3" stroke-dasharray="13.3 13.3" stroke-linejoin="round" />
<path d="M1349.8,312.9 C1349.5,316.1 1348.5,325.6 1347.7,332.3 C1346.9,339 1345.9,346.3 1344.7,352.8 C1343.5,359.3 1341.8,366.7 1340.6,371.2 C1339.4,375.7 1338.7,376.5 1337.5,380 C1336.3,383.5 1334.9,388.2 1333.4,392.3 C1331.9,396.4 1330.2,399.8 1328.3,404.6 C1326.4,409.4 1324.5,415.1 1322.1,420.9 C1319.7,426.7 1317,433.2 1313.9,439.4 C1310.8,445.5 1307.5,451.7 1303.7,457.8 C1300,463.9 1295.5,470.6 1291.4,476.2 C1287.3,481.8 1283.2,487.2 1279.1,491.6 C1275,496.1 1271.7,499 1266.9,502.9 C1262.1,506.8 1255.8,510.9 1250.5,515.1 C1245.2,519.3 1239.7,524.4 1235,528.2 C1230.3,532 1227.6,534.1 1222.1,537.7 C1216.5,541.3 1211.9,543.9 1201.7,549.9 C1191.5,555.9 1178.3,563.2 1160.7,573.5 C1143.1,583.8 1120.1,597.6 1096.2,611.4 C1072.3,625.2 1042,642.2 1017.4,656.4 C992.8,670.5 960.2,689.6 948.8,696.3" fill="none" stroke="#ff0000" stroke-width="5.6" stroke-linejoin="round" />
<path d="M1349.8,312.9 C1348.3,317.5 1344.2,332.1 1340.6,340.5 C1337,348.9 1332.9,355.4 1328.3,363 C1323.7,370.6 1318.1,379.1 1313,386 C1307.9,392.9 1303.6,397.4 1297.6,404.6 C1291.6,411.8 1283.9,421.9 1277.1,429.1 C1270.3,436.3 1264,441.3 1256.6,447.6 C1249.2,453.9 1240,460.9 1232.5,467 C1225,473.1 1220.5,477.8 1211.9,484.4 C1203.4,491 1193.2,498.5 1181.2,506.9 C1169.2,515.3 1154.4,525.2 1140.2,534.6 C1126,544 1110.9,553.9 1096.2,563.3 C1081.5,572.7 1068.3,580.8 1051.8,590.9 C1035.2,601 1014.2,613.7 996.9,623.7 C979.6,633.7 956,646.2 947.8,650.7" fill="none" stroke="#ff0000" stroke-width="3.3" stroke-dasharray="13.3 13.3" stroke-linejoin="round" />
</g>
<circle cx="1518.7" cy="102" r="6" fill="#000"/>
<circle cx="1434.1" cy="220.1" r="6.4" fill="#0000ff"/>
<circle cx="1349.8" cy="312.9" r="6" fill="#ff0000"/>
<circle cx="947.8" cy="682.4" r="5.8" fill="#000"/>
<circle cx="947.8" cy="655.4" r="6" fill="#0000ff"/>
<circle cx="947.8" cy="650.7" r="6" fill="#ff0000"/>
<path d="M1441.7,379.6 L1439.9,392.4 L1455.5,388.2" fill="none" stroke="#000" stroke-width="3" stroke-linejoin="miter" stroke-linecap="butt"/>
<path d="M1389.6,390.5 L1389.3,404.5 L1403.7,398" fill="none" stroke="#0000ff" stroke-width="3" stroke-linejoin="miter" stroke-linecap="butt"/>
<path d="M1323,391.7 L1327.4,403.2 L1339.2,394.2" fill="none" stroke="#ff0000" stroke-width="3" stroke-linejoin="miter" stroke-linecap="butt"/>
<path d="M1025.6,628.8 L1019.4,641.1 L1035.4,640.4" fill="none" stroke="#000" stroke-width="3" stroke-linejoin="miter" stroke-linecap="butt"/>
<path d="M1057.3,578.6 L1051.8,590.9 L1066.9,590.9" fill="none" stroke="#ff0000" stroke-width="3" stroke-linejoin="miter" stroke-linecap="butt"/>
<line x1="965.8" y1="127.6" x2="1055.9" y2="127.6" stroke="#000" stroke-width="6"/>
<line x1="965.8" y1="174.7" x2="1052.6" y2="174.7" stroke="#000" stroke-width="6" stroke-dasharray="25.5 5.1"/>
<text transform="translate(1069.5,136.8)" font-size="25" fill="#000" text-anchor="start" font-weight="normal" >Host P-T path</text>
<text transform="translate(1069.5,183.9)" font-size="25" fill="#000" text-anchor="start" font-weight="normal" >Inclusion P-T path</text>
<path d="M763 0H583V1147Q518 1085 412.5 1023T223 930V1104Q374 1175 487 1276T647 1472H763Z" fill="#000" transform="translate(1251.8,675.9) scale(0.01296,-0.01296)"/>
<text transform="translate(1513.6,675.9)" font-size="26.55" fill="#000" text-anchor="end" font-weight="normal" >Myr&#160; decompression</text>
<text transform="translate(1218.6,418.4) rotate(-42.7)" font-size="33.3" fill="#de3cde" text-anchor="start" font-weight="normal" >Isomeke</text>
<clipPath id="cb"><rect x="124.3" y="899.6" width="609.5" height="634"/></clipPath>
<g clip-path="url(#cb)">
<path d="M124.3,971.5 L180,971 L235.8,970.3 L290,969.2 L346.4,967.8 L397.6,966.2 L430,966.6 L447.4,966.8 L465.8,968.4 L482.2,971.9 L499.6,980.1 L517,996.5 L534.4,1024.1 L550.8,1062 L568.2,1110.1 L580.5,1150 L600,1209.4 L616.3,1252.4 L634.7,1301.5 L651.1,1344.5 L668.5,1379.3 L685.9,1409 L703.3,1431.5 L720.7,1448.9 L733.8,1457.6" fill="none" stroke="#0072bd" stroke-width="4.6" stroke-linejoin="round" />
<path d="M124.3,971.5 L180,971 L235.8,970.3 L290,969.2 L346.4,967.8 L397.6,966.2 L418,967.2 L432,969 L447.4,972.9 L465.8,985.2 L482.2,1006.7 L499.6,1041.5 L517,1088.6 L534.4,1150 L548.8,1197.1 L565.1,1252.4 L581.5,1303.6 L599.9,1352.7 L618.4,1393.7 L634.7,1422.3 L651.1,1446.9 L667.5,1466.3 L681.8,1480 L700,1493 L717,1501.5 L733.8,1507.2" fill="none" stroke="#d95319" stroke-width="4.6" stroke-linejoin="round" />
</g>
<text transform="translate(279.5,1006.7)" font-size="23.8" fill="#8f40ff" text-anchor="middle" font-weight="bold" >Precise recovery</text>
<text transform="translate(279.3,1033.3)" font-size="23.8" fill="#8f40ff" text-anchor="middle" font-weight="bold" >of entrapment P</text>
<text transform="translate(466.7,1280)" font-size="23.8" fill="#8f40ff" text-anchor="middle" font-weight="bold" >Underestimation</text>
<text transform="translate(466.5,1307.7)" font-size="23.8" fill="#8f40ff" text-anchor="middle" font-weight="bold" >of entrapment P</text>
<g opacity="1" fill="none" stroke="rgb(96,0,255)" stroke-opacity="0.7" stroke-width="6.4">
<line x1="458.6" y1="1190.1" x2="458.6" y2="1253.4"/>
<line x1="455.4" y1="1221" x2="506.8" y2="1221" stroke-width="6"/>
<path d="M487.8,1212 L508.5,1222.8 L487.6,1229.5" stroke-width="6" stroke-linejoin="miter" stroke-miterlimit="10"/>
</g>
<text transform="translate(579.6,1070.6)" font-size="16.25" fill="#8f40ff" text-anchor="start" font-weight="bold" >10% underestimate</text>
<line x1="587.2" y1="1076.7" x2="570.9" y2="1109" stroke="#8f40ff" stroke-width="2.2"/>
<path d="M570.6,1095.4 L570.9,1109 L584.2,1101.9" fill="none" stroke="#8f40ff" stroke-width="2.2" stroke-linejoin="miter" stroke-linecap="butt"/>
<text transform="translate(637.8,1222.7)" font-size="16.1" fill="#8f40ff" text-anchor="start" font-weight="bold" >20% (750<tspan font-size="12.9" dy="-8.1">o</tspan><tspan dy="8.1">C)</tspan></text>
<line x1="640.5" y1="1227.4" x2="617.3" y2="1250.3" stroke="#8f40ff" stroke-width="2.2"/>
<path d="M621.4,1238.5 L617.3,1250.3 L630.7,1248.7" fill="none" stroke="#8f40ff" stroke-width="2.2" stroke-linejoin="miter" stroke-linecap="butt"/>
<text transform="translate(701.5,1339.4)" font-size="16.1" fill="#8f40ff" text-anchor="middle" font-weight="bold" >30%</text>
<text transform="translate(675,1357.8)" font-size="16.1" fill="#8f40ff" text-anchor="start" font-weight="bold" >(800<tspan font-size="12.9" dy="-8.1">o</tspan><tspan dy="8.1">C)</tspan></text>
<line x1="698.6" y1="1364" x2="679.4" y2="1390" stroke="#8f40ff" stroke-width="2.2"/>
<path d="M680.8,1377.7 L679.4,1390 L692.1,1385.9" fill="none" stroke="#8f40ff" stroke-width="2.2" stroke-linejoin="miter" stroke-linecap="butt"/>
<rect x="156.2" y="1428" width="353.8" height="76.3" fill="#fff" stroke="#262626" stroke-width="1.3"/>
<line x1="165" y1="1448.7" x2="249" y2="1448.7" stroke="#0072bd" stroke-width="4.4"/>
<line x1="165" y1="1483.1" x2="249" y2="1483.1" stroke="#d95319" stroke-width="4.4"/>
<path d="M763 0H583V1147Q518 1085 412.5 1023T223 930V1104Q374 1175 487 1276T647 1472H763Z" fill="#000" transform="translate(253.4,1459.2) scale(0.01218,-0.01218)"/>
<text transform="translate(274.2,1459.2)" font-size="24.95" fill="#000" text-anchor="start" font-weight="normal" >Myr decompression</text>
<path d="M763 0H583V1147Q518 1085 412.5 1023T223 930V1104Q374 1175 487 1276T647 1472H763Z" fill="#000" transform="translate(253.4,1492.3) scale(0.01218,-0.01218)"/>
<text transform="translate(267.3,1492.3)" font-size="24.95" fill="#000" text-anchor="start" font-weight="normal" >0 Myr decompression</text>
<clipPath id="cd"><rect x="924.6" y="898.9" width="601.1" height="631.6"/></clipPath>
<g clip-path="url(#cd)">
<path d="M924.6,966.4 L1100,966.5 L1200,966.6 L1236,966.9 L1254.6,968.8 L1285.3,973.9 L1307.8,983.2 L1322.1,994.4 L1332.4,1005.7 L1344.7,1025.1 L1356.9,1048.7 L1373.3,1084.5 L1389.7,1119.3 L1404,1150 L1418.4,1180.7 L1434.8,1208.4 L1447,1223.7 L1463.4,1241.1 L1477.7,1255.4 L1496.2,1266.7 L1516.6,1278 L1525.7,1280.6" fill="none" stroke="#d95319" stroke-width="4.6" stroke-linejoin="round" />
<path d="M1236.1,967 L1271,967.4 L1307.8,969.9 L1330.3,973.9 L1346.7,980.1 L1361,989.3 L1375.4,1003.6 L1389.7,1023.1 L1404,1047.7 L1418.4,1074.3 L1434.8,1107 L1455.2,1147 L1472.6,1180.2 L1492.1,1206.8 L1506.4,1221.7 L1525.7,1237.1" fill="none" stroke="#0072bd" stroke-width="4.6" stroke-linejoin="round" />
</g>
<text transform="translate(1069.9,1006.7)" font-size="23.5" fill="#8f40ff" text-anchor="middle" font-weight="bold" >Precise recovery</text>
<text transform="translate(1069.8,1033.3)" font-size="23.5" fill="#8f40ff" text-anchor="middle" font-weight="bold" >of entrapment P</text>
<text transform="translate(1290.8,1209.6)" font-size="23.7" fill="#8f40ff" text-anchor="middle" font-weight="bold" >Underestimation</text>
<text transform="translate(1290.6,1236.2)" font-size="23.7" fill="#8f40ff" text-anchor="middle" font-weight="bold" >of entrapment P</text>
<g opacity="1" fill="none" stroke="rgb(96,0,255)" stroke-opacity="0.7" stroke-width="6.4">
<line x1="1287.7" y1="1111.8" x2="1287.7" y2="1174.9"/>
<line x1="1284.5" y1="1143" x2="1335.9" y2="1143" stroke-width="6"/>
<path d="M1316.8,1133.7 L1337.6,1144.4 L1316.6,1151.2" stroke-width="6" stroke-linejoin="miter" stroke-miterlimit="10"/>
</g>
<text transform="translate(1392,998.9)" font-size="15.2" fill="#8f40ff" text-anchor="start" font-weight="bold" >5% underestimate</text>
<line x1="1427" y1="1007.1" x2="1404.4" y2="1037.4" stroke="#8f40ff" stroke-width="2.2"/>
<path d="M1405.7,1024.1 L1404.4,1037.4 L1419.4,1031.9" fill="none" stroke="#8f40ff" stroke-width="2.2" stroke-linejoin="miter" stroke-linecap="butt"/>
<text transform="translate(1432.2,1076.7)" font-size="15.2" fill="#8f40ff" text-anchor="start" font-weight="bold" >10% (720<tspan font-size="12.2" dy="-7.6">o</tspan><tspan dy="7.6">C)</tspan></text>
<line x1="1463" y1="1082.9" x2="1436.4" y2="1109.1" stroke="#8f40ff" stroke-width="2.2"/>
<path d="M1438.8,1096.8 L1436.4,1109.1 L1450.1,1106.6" fill="none" stroke="#8f40ff" stroke-width="2.2" stroke-linejoin="miter" stroke-linecap="butt"/>
<rect x="956.2" y="1425.5" width="350.1" height="76.1" fill="#fff" stroke="#262626" stroke-width="1.3"/>
<line x1="965" y1="1446.4" x2="1048" y2="1446.4" stroke="#0072bd" stroke-width="4.4"/>
<line x1="965" y1="1480.6" x2="1048" y2="1480.6" stroke="#d95319" stroke-width="4.4"/>
<path d="M763 0H583V1147Q518 1085 412.5 1023T223 930V1104Q374 1175 487 1276T647 1472H763Z" fill="#000" transform="translate(1050.2,1456.2) scale(0.01218,-0.01218)"/>
<text transform="translate(1071,1456.2)" font-size="24.95" fill="#000" text-anchor="start" font-weight="normal" >Myr decompression</text>
<path d="M763 0H583V1147Q518 1085 412.5 1023T223 930V1104Q374 1175 487 1276T647 1472H763Z" fill="#000" transform="translate(1050.2,1489.8) scale(0.01218,-0.01218)"/>
<text transform="translate(1064.1,1489.8)" font-size="24.95" fill="#000" text-anchor="start" font-weight="normal" >0 Myr decompression</text>
<text transform="translate(125,742.8) scale(1.0,1.04)" font-size="28.2" fill="#262626" text-anchor="middle" font-weight="normal" >0</text>
<text transform="translate(273.8,742.8) scale(1.0,1.04)" font-size="28.2" fill="#262626" text-anchor="middle" font-weight="normal" >200</text>
<text transform="translate(422.7,742.8) scale(1.0,1.04)" font-size="28.2" fill="#262626" text-anchor="middle" font-weight="normal" >400</text>
<text transform="translate(571.5,742.8) scale(1.0,1.04)" font-size="28.2" fill="#262626" text-anchor="middle" font-weight="normal" >600</text>
<text transform="translate(720.4,742.8) scale(1.0,1.04)" font-size="28.2" fill="#262626" text-anchor="middle" font-weight="normal" >800</text>
<text transform="translate(114.3,711.1) scale(1.0,1.04)" font-size="28.2" fill="#262626" text-anchor="end" font-weight="normal" >0</text>
<text transform="translate(114.3,649.6) scale(1.0,1.04)" font-size="28.2" fill="#262626" text-anchor="end" font-weight="normal" >0.2</text>
<text transform="translate(114.3,588.1) scale(1.0,1.04)" font-size="28.2" fill="#262626" text-anchor="end" font-weight="normal" >0.4</text>
<text transform="translate(114.3,526.5) scale(1.0,1.04)" font-size="28.2" fill="#262626" text-anchor="end" font-weight="normal" >0.6</text>
<text transform="translate(114.3,465) scale(1.0,1.04)" font-size="28.2" fill="#262626" text-anchor="end" font-weight="normal" >0.8</text>
<path d="M763 0H583V1147Q518 1085 412.5 1023T223 930V1104Q374 1175 487 1276T647 1472H763Z" fill="#262626" transform="translate(98.6,403.5) scale(0.01377,-0.01377)"/>
<path d="M763 0H583V1147Q518 1085 412.5 1023T223 930V1104Q374 1175 487 1276T647 1472H763Z" fill="#262626" transform="translate(75.1,342) scale(0.01377,-0.01377)"/>
<text transform="translate(90.8,342) scale(1.0,1.04)" font-size="28.2" fill="#262626" text-anchor="start" font-weight="normal" >.2</text>
<path d="M763 0H583V1147Q518 1085 412.5 1023T223 930V1104Q374 1175 487 1276T647 1472H763Z" fill="#262626" transform="translate(75.1,280.5) scale(0.01377,-0.01377)"/>
<text transform="translate(90.8,280.5) scale(1.0,1.04)" font-size="28.2" fill="#262626" text-anchor="start" font-weight="normal" >.4</text>
<path d="M763 0H583V1147Q518 1085 412.5 1023T223 930V1104Q374 1175 487 1276T647 1472H763Z" fill="#262626" transform="translate(75.1,218.9) scale(0.01377,-0.01377)"/>
<text transform="translate(90.8,218.9) scale(1.0,1.04)" font-size="28.2" fill="#262626" text-anchor="start" font-weight="normal" >.6</text>
<path d="M763 0H583V1147Q518 1085 412.5 1023T223 930V1104Q374 1175 487 1276T647 1472H763Z" fill="#262626" transform="translate(75.1,157.4) scale(0.01377,-0.01377)"/>
<text transform="translate(90.8,157.4) scale(1.0,1.04)" font-size="28.2" fill="#262626" text-anchor="start" font-weight="normal" >.8</text>
<text transform="translate(114.3,95.9) scale(1.0,1.04)" font-size="28.2" fill="#262626" text-anchor="end" font-weight="normal" >2</text>
<text transform="translate(926.5,742.8) scale(1.0,1.04)" font-size="28.2" fill="#262626" text-anchor="middle" font-weight="normal" >0</text>
<text transform="translate(1096.2,742.8) scale(1.0,1.04)" font-size="28.2" fill="#262626" text-anchor="middle" font-weight="normal" >200</text>
<text transform="translate(1265.9,742.8) scale(1.0,1.04)" font-size="28.2" fill="#262626" text-anchor="middle" font-weight="normal" >400</text>
<text transform="translate(1435.6,742.8) scale(1.0,1.04)" font-size="28.2" fill="#262626" text-anchor="middle" font-weight="normal" >600</text>
<text transform="translate(916.2,708) scale(1.0,1.04)" font-size="28.2" fill="#262626" text-anchor="end" font-weight="normal" >0</text>
<text transform="translate(877,648.2) scale(1.0,1.04)" font-size="28.2" fill="#262626" text-anchor="start" font-weight="normal" >0.</text>
<path d="M763 0H583V1147Q518 1085 412.5 1023T223 930V1104Q374 1175 487 1276T647 1472H763Z" fill="#262626" transform="translate(900.5,648.2) scale(0.01377,-0.01377)"/>
<text transform="translate(916.2,588.4) scale(1.0,1.04)" font-size="28.2" fill="#262626" text-anchor="end" font-weight="normal" >0.2</text>
<text transform="translate(916.2,528.6) scale(1.0,1.04)" font-size="28.2" fill="#262626" text-anchor="end" font-weight="normal" >0.3</text>
<text transform="translate(916.2,468.8) scale(1.0,1.04)" font-size="28.2" fill="#262626" text-anchor="end" font-weight="normal" >0.4</text>
<text transform="translate(916.2,409) scale(1.0,1.04)" font-size="28.2" fill="#262626" text-anchor="end" font-weight="normal" >0.5</text>
<text transform="translate(916.2,349.2) scale(1.0,1.04)" font-size="28.2" fill="#262626" text-anchor="end" font-weight="normal" >0.6</text>
<text transform="translate(916.2,289.4) scale(1.0,1.04)" font-size="28.2" fill="#262626" text-anchor="end" font-weight="normal" >0.7</text>
<text transform="translate(916.2,229.6) scale(1.0,1.04)" font-size="28.2" fill="#262626" text-anchor="end" font-weight="normal" >0.8</text>
<text transform="translate(916.2,169.8) scale(1.0,1.04)" font-size="28.2" fill="#262626" text-anchor="end" font-weight="normal" >0.9</text>
<path d="M763 0H583V1147Q518 1085 412.5 1023T223 930V1104Q374 1175 487 1276T647 1472H763Z" fill="#262626" transform="translate(900.5,110) scale(0.01377,-0.01377)"/>
<text transform="translate(125.3,1573.7) scale(1.0,1.04)" font-size="28.2" fill="#262626" text-anchor="middle" font-weight="normal" >300</text>
<text transform="translate(235.8,1573.7) scale(1.0,1.04)" font-size="28.2" fill="#262626" text-anchor="middle" font-weight="normal" >400</text>
<text transform="translate(346.3,1573.7) scale(1.0,1.04)" font-size="28.2" fill="#262626" text-anchor="middle" font-weight="normal" >500</text>
<text transform="translate(456.8,1573.7) scale(1.0,1.04)" font-size="28.2" fill="#262626" text-anchor="middle" font-weight="normal" >600</text>
<text transform="translate(567.3,1573.7) scale(1.0,1.04)" font-size="28.2" fill="#262626" text-anchor="middle" font-weight="normal" >700</text>
<text transform="translate(677.8,1573.7) scale(1.0,1.04)" font-size="28.2" fill="#262626" text-anchor="middle" font-weight="normal" >800</text>
<text transform="translate(114.4,1544.1) scale(1.0,1.04)" font-size="28.2" fill="#262626" text-anchor="end" font-weight="normal" >0.6</text>
<text transform="translate(114.4,1473.8) scale(1.0,1.04)" font-size="28.2" fill="#262626" text-anchor="end" font-weight="normal" >0.65</text>
<text transform="translate(114.4,1403.5) scale(1.0,1.04)" font-size="28.2" fill="#262626" text-anchor="end" font-weight="normal" >0.7</text>
<text transform="translate(114.4,1333.2) scale(1.0,1.04)" font-size="28.2" fill="#262626" text-anchor="end" font-weight="normal" >0.75</text>
<text transform="translate(114.4,1262.9) scale(1.0,1.04)" font-size="28.2" fill="#262626" text-anchor="end" font-weight="normal" >0.8</text>
<text transform="translate(114.4,1192.5) scale(1.0,1.04)" font-size="28.2" fill="#262626" text-anchor="end" font-weight="normal" >0.85</text>
<text transform="translate(114.4,1122.2) scale(1.0,1.04)" font-size="28.2" fill="#262626" text-anchor="end" font-weight="normal" >0.9</text>
<text transform="translate(114.4,1051.9) scale(1.0,1.04)" font-size="28.2" fill="#262626" text-anchor="end" font-weight="normal" >0.95</text>
<path d="M763 0H583V1147Q518 1085 412.5 1023T223 930V1104Q374 1175 487 1276T647 1472H763Z" fill="#262626" transform="translate(98.7,981.6) scale(0.01377,-0.01377)"/>
<path d="M763 0H583V1147Q518 1085 412.5 1023T223 930V1104Q374 1175 487 1276T647 1472H763Z" fill="#262626" transform="translate(59.5,911.3) scale(0.01377,-0.01377)"/>
<text transform="translate(75.2,911.3) scale(1.0,1.04)" font-size="28.2" fill="#262626" text-anchor="start" font-weight="normal" >.05</text>
<text transform="translate(925.3,1570.7) scale(1.0,1.04)" font-size="28.2" fill="#262626" text-anchor="middle" font-weight="normal" >300</text>
<text transform="translate(1045.6,1570.7) scale(1.0,1.04)" font-size="28.2" fill="#262626" text-anchor="middle" font-weight="normal" >400</text>
<text transform="translate(1165.9,1570.7) scale(1.0,1.04)" font-size="28.2" fill="#262626" text-anchor="middle" font-weight="normal" >500</text>
<text transform="translate(1286.2,1570.7) scale(1.0,1.04)" font-size="28.2" fill="#262626" text-anchor="middle" font-weight="normal" >600</text>
<text transform="translate(1406.5,1570.7) scale(1.0,1.04)" font-size="28.2" fill="#262626" text-anchor="middle" font-weight="normal" >700</text>
<text transform="translate(1526.8,1570.7) scale(1.0,1.04)" font-size="28.2" fill="#262626" text-anchor="middle" font-weight="normal" >800</text>
<text transform="translate(914.2,1541.5) scale(1.0,1.04)" font-size="28.2" fill="#262626" text-anchor="end" font-weight="normal" >0.6</text>
<text transform="translate(914.2,1471.2) scale(1.0,1.04)" font-size="28.2" fill="#262626" text-anchor="end" font-weight="normal" >0.65</text>
<text transform="translate(914.2,1400.8) scale(1.0,1.04)" font-size="28.2" fill="#262626" text-anchor="end" font-weight="normal" >0.7</text>
<text transform="translate(914.2,1330.5) scale(1.0,1.04)" font-size="28.2" fill="#262626" text-anchor="end" font-weight="normal" >0.75</text>
<text transform="translate(914.2,1260.1) scale(1.0,1.04)" font-size="28.2" fill="#262626" text-anchor="end" font-weight="normal" >0.8</text>
<text transform="translate(914.2,1189.8) scale(1.0,1.04)" font-size="28.2" fill="#262626" text-anchor="end" font-weight="normal" >0.85</text>
<text transform="translate(914.2,1119.4) scale(1.0,1.04)" font-size="28.2" fill="#262626" text-anchor="end" font-weight="normal" >0.9</text>
<text transform="translate(914.2,1049.1) scale(1.0,1.04)" font-size="28.2" fill="#262626" text-anchor="end" font-weight="normal" >0.95</text>
<path d="M763 0H583V1147Q518 1085 412.5 1023T223 930V1104Q374 1175 487 1276T647 1472H763Z" fill="#262626" transform="translate(898.5,978.7) scale(0.01377,-0.01377)"/>
<path d="M763 0H583V1147Q518 1085 412.5 1023T223 930V1104Q374 1175 487 1276T647 1472H763Z" fill="#262626" transform="translate(859.3,908.4) scale(0.01377,-0.01377)"/>
<text transform="translate(875,908.4) scale(1.0,1.04)" font-size="28.2" fill="#262626" text-anchor="start" font-weight="normal" >.05</text>
<text transform="translate(127,48.6)" font-size="39" fill="#000" text-anchor="start" font-weight="normal" >(a) Eclogite facies</text>
<text transform="translate(935.5,42.2)" font-size="39.2" fill="#000" text-anchor="start" font-weight="normal" >(c) Amphibolite facies</text>
<text transform="translate(127,873)" font-size="39" fill="#000" text-anchor="start" font-weight="normal" >(b) Eclogite facies</text>
<text transform="translate(928.2,866.8)" font-size="39.15" fill="#000" text-anchor="start" font-weight="normal" >(d) Amphibolite facies</text>
<text transform="translate(424,790.6)" font-size="31.4" fill="#000" text-anchor="end" font-weight="normal" >T (</text>
<circle cx="433.6" cy="767.9" r="5.15" fill="none" stroke="#000" stroke-width="2.5"/>
<text transform="translate(439.8,790.6)" font-size="31.4" fill="#000" text-anchor="start" font-weight="normal" >C)</text>
<text transform="translate(1225.9,790.6)" font-size="31.4" fill="#000" text-anchor="end" font-weight="normal" >T (</text>
<circle cx="1236.5" cy="767.9" r="5.15" fill="none" stroke="#000" stroke-width="2.5"/>
<text transform="translate(1241.7,790.6)" font-size="31.4" fill="#000" text-anchor="start" font-weight="normal" >C)</text>
<text transform="translate(509.3,1619.8)" font-size="31.15" fill="#000" text-anchor="end" font-weight="normal" >Entrapment T (</text>
<circle cx="518" cy="1597.1" r="5.15" fill="none" stroke="#000" stroke-width="2.5"/>
<text transform="translate(524.9,1619.8)" font-size="31.15" fill="#000" text-anchor="start" font-weight="normal" >C)</text>
<text transform="translate(1302.3,1619.8)" font-size="31.2" fill="#000" text-anchor="end" font-weight="normal" >Entrapment T (</text>
<circle cx="1310.8" cy="1597.1" r="5.15" fill="none" stroke="#000" stroke-width="2.5"/>
<text transform="translate(1317.7,1619.8)" font-size="31.2" fill="#000" text-anchor="start" font-weight="normal" >C)</text>
<text transform="translate(51.2,371.2) rotate(-90)" font-size="31.5" fill="#000" text-anchor="middle" font-weight="normal" >P (GPa)</text>
<text transform="translate(847.2,370.5) rotate(-90)" font-size="31.5" fill="#000" text-anchor="middle" font-weight="normal" >P (GPa)</text>
<text transform="translate(36.7,1227.6) rotate(-90)" font-size="31.2" fill="#000" text-anchor="middle" font-weight="normal" >Apparent entrap P /&#160; true entrap P</text>
<text transform="translate(831.8,1227.3) rotate(-90)" font-size="31.0" fill="#000" text-anchor="middle" font-weight="normal" >Apparent entrap P /&#160; true entrap P</text>
<rect x="849" y="1311.3" width="1.2" height="1.4" fill="#444"/>
</svg>
</body></html>
